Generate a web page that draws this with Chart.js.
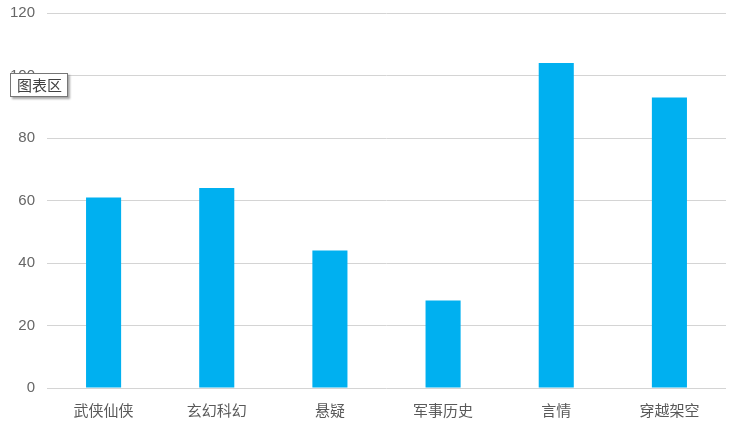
<!DOCTYPE html>
<html>
<head>
<meta charset="utf-8">
<script src="https://cdn.jsdelivr.net/npm/chart.js@4"></script>
<style>
  html, body { margin: 0; padding: 0; background: #fff; }
  #wrap { position: relative; width: 740px; height: 423px; }
  #tip {
    position: absolute; left: 10px; top: 73px;
    padding: 1px 5px 1px 6px; background: #fff;
    border: 1px solid #767676;
    box-shadow: 2px 2px 2px rgba(0,0,0,0.35);
    font: 15px "Noto Sans CJK SC", sans-serif; color: #404040;
    line-height: 20px;
  }
</style>
</head>
<body>
<div id="wrap">
  <canvas id="c" width="740" height="423"></canvas>
  <div id="tip">图表区</div>
</div>
<script>
// Data
const categories = ['武侠仙侠', '玄幻科幻', '悬疑', '军事历史', '言情', '穿越架空'];
const values = [61, 64, 44, 28, 104, 93];
const yTicks = [0, 20, 40, 60, 80, 100, 120];

const ctx = document.getElementById('c').getContext('2d');

new Chart(ctx, {
  type: 'bar',
  data: {
    labels: categories,
    datasets: [{
      data: values,
      backgroundColor: '#00B0F0',
      borderWidth: 0,
      categoryPercentage: 1,
      barPercentage: 0.31
    }]
  },
  options: {
    responsive: false,
    animation: false,
    layout: { padding: { top: 13, right: 14, left: 0, bottom: 0 } },
    plugins: {
      legend: { display: false },
      tooltip: { enabled: false }
    },
    scales: {
      x: {
        grid: { display: false },
        border: { display: false },
        ticks: {
          color: '#595959',
          font: { family: '"Noto Sans CJK SC", sans-serif', size: 15 },
          padding: 5
        },
        afterFit: (scale) => { scale.height = 35; }
      },
      y: {
        min: 0,
        max: 120,
        afterBuildTicks: (scale) => { scale.ticks = yTicks.map(v => ({ value: v })); },
        grid: { color: '#d4d4d4', lineWidth: 1, drawTicks: false },
        border: { display: false },
        ticks: {
          color: '#666666',
          font: { family: '"Liberation Sans", Arial, sans-serif', size: 15 },
          padding: 12
        },
        afterFit: (scale) => {
          scale.width = 47;
          scale.paddingTop = 0;
          scale.paddingBottom = 0;
        }
      }
    }
  }
});
</script>
</body>
</html>
